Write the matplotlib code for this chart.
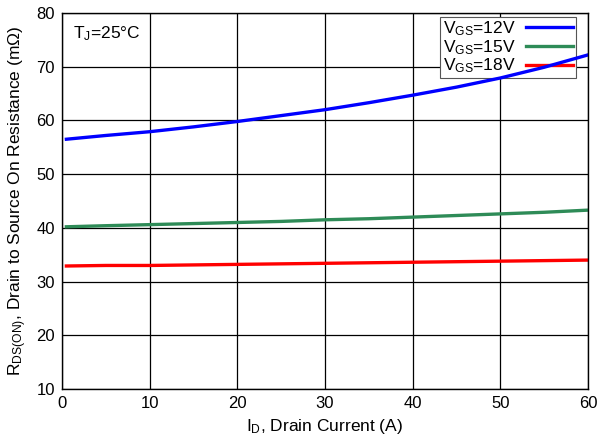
import matplotlib
matplotlib.use("Agg")
import matplotlib.pyplot as plt
import numpy as np

plt.rcParams['font.family'] = ['Liberation Sans', 'DejaVu Sans']
plt.rcParams['mathtext.fontset'] = 'custom'
plt.rcParams['mathtext.rm'] = 'Liberation Sans'
plt.rcParams['mathtext.it'] = 'Liberation Sans'

current = [0.5, 5, 10, 15, 20, 25, 30, 35, 40, 45, 50, 55, 60]
r_vgs12 = [56.5, 57.2, 57.9, 58.8, 59.8, 60.9, 62.0, 63.3, 64.7, 66.2, 67.9, 69.9, 72.2]
r_vgs15 = [40.2, 40.4, 40.6, 40.8, 41.0, 41.2, 41.5, 41.7, 42.0, 42.3, 42.6, 42.9, 43.3]
r_vgs18 = [32.9, 33.0, 33.0, 33.1, 33.2, 33.3, 33.4, 33.5, 33.6, 33.7, 33.8, 33.9, 34.0]
labels = [r'V$_{\mathregular{GS}}$=12V', r'V$_{\mathregular{GS}}$=15V', r'V$_{\mathregular{GS}}$=18V']
colors = ['#0000ff', '#2e8b57', '#ff0000']
xticks = [0, 10, 20, 30, 40, 50, 60]
yticks = [10, 20, 30, 40, 50, 60, 70, 80]

fig = plt.figure(figsize=(6.01, 4.43), dpi=100)
ax = fig.add_axes([62/601, 1-389/443, (588-62)/601, (389-13)/443])
ax.set_axisbelow(True)

for ys, lab, c in zip([r_vgs12, r_vgs15, r_vgs18], labels, colors):
    ax.plot(current, ys, color=c, lw=2.4, label=lab, zorder=3)

ax.set_xlim(0, 60)
ax.set_ylim(10, 80)
ax.set_xticks(xticks)
ax.set_yticks(yticks)
ax.grid(True, color='black', lw=0.9)
ax.tick_params(length=0, labelsize=12, pad=5)
for s in ax.spines.values():
    s.set_linewidth(1.0)
    s.set_zorder(4)

ax.set_xlabel(r'I$_{\mathregular{D}}$, Drain Current (A)', fontsize=12.5, labelpad=4)
ax.set_ylabel(r'R$_{\mathregular{DS(ON)}}$, Drain to Source On Resistance (mΩ)', fontsize=12.5, labelpad=5)

ax.text(0.021, 0.97, r'T$_{\mathregular{J}}$=25°C', transform=ax.transAxes,
        fontsize=12.5, va='top', ha='left')

leg = ax.legend(loc='upper right', markerfirst=False, fontsize=12.5, frameon=True,
                fancybox=False, edgecolor='#555555', framealpha=1,
                bbox_to_anchor=(0.98, 0.995), borderpad=0.15, labelspacing=0.0,
                handlelength=2.7, handletextpad=0.6, borderaxespad=0.1)
leg.get_frame().set_linewidth(0.8)
leg.set_zorder(2.5)

fig.savefig('out.png', dpi=100)
